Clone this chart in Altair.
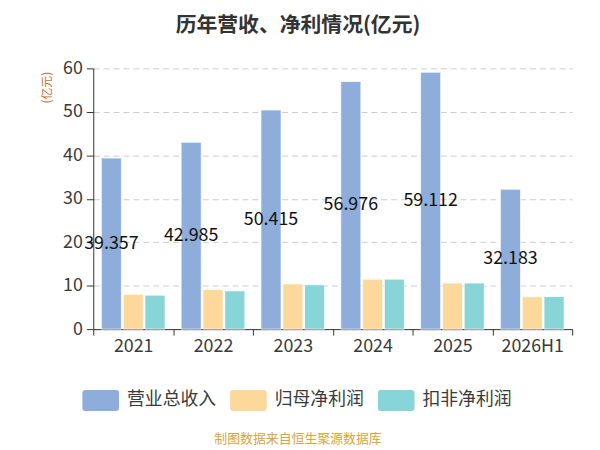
import altair as alt
import pandas as pd

years = ["2021", "2022", "2023", "2024", "2025", "2026H1"]
series = ["营业总收入", "归母净利润", "扣非净利润"]
revenue = [39.357, 42.985, 50.415, 56.976, 59.112, 32.183]
net_profit = [8.0, 9.1, 10.4, 11.5, 10.6, 7.45]
net_profit_ex = [7.8, 8.8, 10.2, 11.5, 10.6, 7.5]
colors = ["#8eaddb", "#fdd89b", "#88d5d8"]

rows = []
for i, y in enumerate(years):
    for s, vals in zip(series, [revenue, net_profit, net_profit_ex]):
        rows.append({"year": y, "series": s, "value": vals[i]})
df = pd.DataFrame(rows)
lab = pd.DataFrame({"year": years, "series": series[0], "value": revenue})

FONT = "Noto Sans CJK SC"
rounded = ("M-0.84,-0.57 H0.84 Q1,-0.57 1,-0.41 V0.41 Q1,0.57 0.84,0.57 "
           "H-0.84 Q-1,0.57 -1,0.41 V-0.41 Q-1,-0.57 -0.84,-0.57 Z")

xenc = alt.X("year:N", sort=years,
             scale=alt.Scale(paddingInner=0, paddingOuter=0),
             axis=alt.Axis(title="制图数据来自恒生聚源数据库", titleColor="#d9a441",
                           titleFontSize=13, titleFont=FONT, titleFontWeight="normal",
                           titleX=206, titleY=110, titleAnchor="start", titleAlign="center",
                           titleBaseline="middle",
                           labelFont=FONT, labelFontSize=18, labelColor="#3a3a3a",
                           labelPadding=3, tickBand="extent", tickSize=6,
                           tickColor="#333333", domainColor="#333333", labelAngle=0))
xoff = alt.XOffset("series:N", sort=series,
                   scale=alt.Scale(domain=series, paddingInner=0.08, paddingOuter=0.37))

bars = alt.Chart(df).mark_bar(stroke="white", strokeWidth=1, strokeOpacity=0.7).encode(
    x=xenc,
    xOffset=xoff,
    y=alt.Y("value:Q", scale=alt.Scale(domain=[0, 60]),
            axis=alt.Axis(title="(亿元)", titleColor="#c8692e", titleFontSize=12,
                          titleFont=FONT, titleFontWeight="normal", titleAngle=270,
                          titleX=-47, titleY=19, titleAlign="center", titleBaseline="middle",
                          values=[0, 10, 20, 30, 40, 50, 60],
                          labelFont=FONT, labelFontSize=18, labelColor="#3a3a3a",
                          tickSize=7, tickColor="#333333", domainColor="#333333",
                          gridColor="#cccccc", gridDash=[6, 4], labelPadding=4)),
    color=alt.Color("series:N", sort=series,
                    scale=alt.Scale(domain=series, range=colors),
                    legend=alt.Legend(title=None, orient="none", direction="horizontal",
                                      legendX=-11, legendY=316, symbolType=rounded,
                                      symbolSize=1369, symbolStrokeWidth=0,
                                      labelFont=FONT, labelFontSize=18, labelColor="#3a3a3a",
                                      labelOffset=8, columnPadding=14, padding=0)),
)

text = alt.Chart(lab).transform_calculate(half="datum.value / 2").mark_text(
    font=FONT, fontSize=18, color="#111111", baseline="middle", align="center"
).encode(
    x=alt.X("year:N", sort=years),
    xOffset=alt.XOffset("series:N", sort=series),
    y=alt.Y("half:Q"),
    text=alt.Text("value:Q", format=".3f"),
)

chart = alt.layer(bars, text).properties(
    width=483, height=263,
    autosize=alt.AutoSizeParams(type="none"),
    padding={"left": 86, "top": 59, "right": 20, "bottom": 118},
    title=alt.TitleParams("历年营收、净利情况(亿元)", font=FONT, fontSize=21,
                          fontWeight="bold", color="#333333", anchor="middle",
                          frame="group", dx=-35, offset=24),
).configure_view(stroke=None).configure_axisX(grid=False)

chart.save("out.html", embed_options={"renderer": "svg", "actions": False})
